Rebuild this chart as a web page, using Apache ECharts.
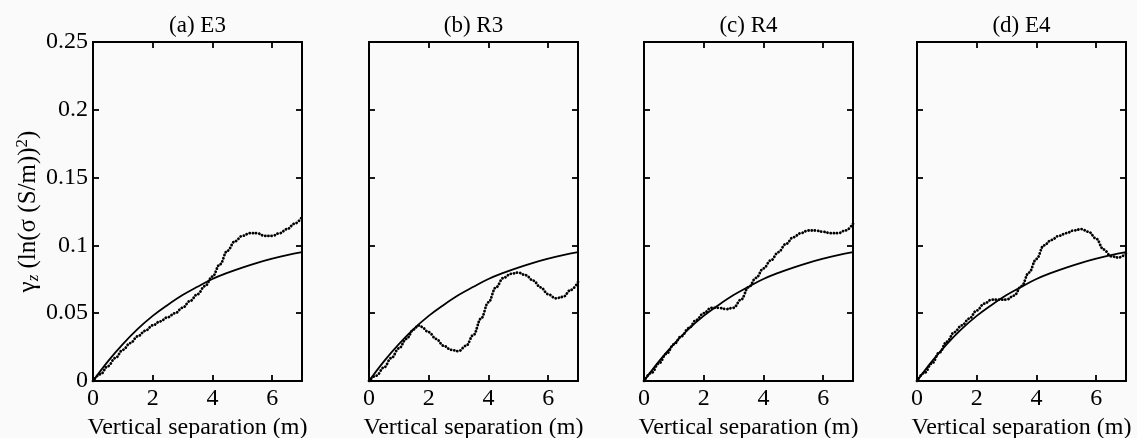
<!DOCTYPE html>
<html>
<head>
<meta charset="utf-8">
<script src="https://cdn.jsdelivr.net/npm/echarts@6/dist/echarts.min.js"></script>
<style>
html,body{margin:0;padding:0;background:#fafafa;}
#chart{width:1137px;height:438px;}
</style>
</head>
<body>
<div id="chart"></div>
<script>
// ---- data ----
const panelTitles = ['(a) E3', '(b) R3', '(c) R4', '(d) E4'];
const xTitle = 'Vertical separation (m)';
const yTicks = [0.05, 0.1, 0.15, 0.2];
const xTicks = [2, 4, 6];

// fitted model curve (same in every panel)
const modelX = [0, 0.5, 1, 1.5, 2, 2.5, 3, 3.5, 4, 4.5, 5, 5.5, 6, 6.5, 7];
const modelY = [0, 0.0145, 0.0272, 0.0384, 0.048, 0.0561, 0.0634, 0.0695, 0.0752, 0.0797, 0.0836, 0.0871, 0.0902, 0.0929, 0.095];

// experimental variograms (dotted)
const e3X = [0,0.25,0.5,0.75,1,1.25,1.5,1.75,2,2.25,2.5,2.75,3,3.25,3.5,3.75,4,4.25,4.5,4.75,5,5.25,5.5,5.75,6,6.25,6.5,6.75,7];
const e3Y = [0,0.005,0.011,0.017,0.023,0.028,0.033,0.037,0.041,0.044,0.047,0.050,0.054,0.059,0.064,0.070,0.077,0.086,0.096,0.103,0.107,0.109,0.109,0.107,0.107,0.109,0.112,0.116,0.121];

const r3X = [0,0.25,0.5,0.75,1,1.25,1.5,1.65,1.75,2,2.25,2.5,2.75,3,3.25,3.5,3.75,4,4.25,4.5,4.75,5,5.25,5.5,5.75,6,6.25,6.5,6.75,7];
const r3Y = [0,0.004,0.010,0.017,0.024,0.031,0.038,0.041,0.040,0.036,0.031,0.026,0.023,0.022,0.026,0.034,0.046,0.058,0.069,0.076,0.079,0.080,0.078,0.074,0.069,0.064,0.061,0.062,0.067,0.073];

const r4X = [0,0.25,0.5,0.75,1,1.25,1.5,1.75,2,2.25,2.5,2.75,3,3.25,3.5,3.75,4,4.25,4.5,4.75,5,5.25,5.5,5.75,6,6.25,6.5,6.75,7];
const r4Y = [0,0.006,0.013,0.020,0.027,0.033,0.039,0.045,0.050,0.054,0.054,0.053,0.054,0.060,0.069,0.076,0.083,0.089,0.095,0.101,0.106,0.109,0.111,0.111,0.110,0.109,0.109,0.111,0.116];

const e4X = [0,0.25,0.5,0.75,1,1.25,1.5,1.75,2,2.25,2.5,2.75,3,3.25,3.5,3.75,4,4.25,4.5,4.75,5,5.25,5.5,5.75,6,6.25,6.5,6.75,7];
const e4Y = [0,0.006,0.013,0.021,0.029,0.036,0.041,0.046,0.052,0.057,0.060,0.060,0.060,0.063,0.070,0.080,0.090,0.100,0.104,0.107,0.109,0.111,0.112,0.110,0.105,0.097,0.092,0.091,0.094];

const expX = [e3X, r3X, r4X, e4X];
const expY = [e3Y, r3Y, r4Y, e4Y];

// ---- chart ----
const FONT = "'Liberation Serif','Times New Roman',serif";
const gridLefts = [93, 369, 644, 917];
const gridW = 209;
const zip = (xs, ys) => xs.map((x, i) => [x, ys[i]]);

const grids = [], xAxes = [], yAxes = [], series = [];
const tickLine = {color: '#000', width: 1.8};
const xTick = {show: true, inside: true, length: 6, lineStyle: tickLine, customValues: xTicks};
const yTick = {show: true, inside: true, length: 6, lineStyle: tickLine, customValues: yTicks};
const noLine = {show: false, onZero: false};

gridLefts.forEach((left, i) => {
  grids.push({left: left, width: gridW, top: 42, height: 339, show: true,
    outerBoundsMode: 'none', containLabel: false,
    borderColor: '#000', borderWidth: 2, backgroundColor: 'transparent'});
  // bottom x
  xAxes.push({type: 'value', gridIndex: i, position: 'bottom', min: 0, max: 7, interval: 2,
    axisLine: noLine, axisTick: xTick, splitLine: {show: false},
    axisLabel: {color: '#000', fontFamily: FONT, fontSize: 24, margin: 6, showMaxLabel: false},
    name: xTitle, nameLocation: 'middle', nameGap: 30,
    nameTextStyle: {color: '#000', fontFamily: FONT, fontSize: 24}});
  // top x (ticks + panel title)
  xAxes.push({type: 'value', gridIndex: i, position: 'top', min: 0, max: 7, interval: 2,
    axisLine: noLine, axisTick: xTick, splitLine: {show: false},
    axisLabel: {show: false},
    name: panelTitles[i], nameLocation: 'middle', nameGap: 5,
    nameTextStyle: {color: '#000', fontFamily: FONT, fontSize: 23}});
  // left y
  const yl = {type: 'value', gridIndex: i, position: 'left', min: 0, max: 0.25, interval: 0.05,
    axisLine: noLine, axisTick: yTick, splitLine: {show: false},
    axisLabel: {show: i === 0, color: '#000', fontFamily: FONT, fontSize: 24, margin: 5,
      formatter: v => String(+v.toFixed(2))}};
  if (i === 0) {
    yl.name = '{g|γ}{s|z}{g| (ln(σ (S/m))}{p|2}{g|)}';
    yl.nameLocation = 'middle';
    yl.nameGap = 41;
    yl.nameTextStyle = {color: '#000', fontFamily: FONT, fontSize: 25,
      rich: {
        g: {fontFamily: FONT, fontSize: 25, color: '#000', lineHeight: 28},
        s: {fontFamily: FONT, fontSize: 17, fontStyle: 'italic', color: '#000', lineHeight: 16, verticalAlign: 'bottom'},
        p: {fontFamily: FONT, fontSize: 17, color: '#000', lineHeight: 16, verticalAlign: 'top'}
      }};
  }
  yAxes.push(yl);
  // right y
  yAxes.push({type: 'value', gridIndex: i, position: 'right', min: 0, max: 0.25, interval: 0.05,
    axisLine: noLine, axisTick: yTick, splitLine: {show: false},
    axisLabel: {show: false}});

  series.push({type: 'line', xAxisIndex: 2 * i, yAxisIndex: 2 * i, data: zip(modelX, modelY),
    smooth: 0.4, showSymbol: false, silent: true,
    lineStyle: {color: '#000', width: 1.8}, z: 3});
  series.push({type: 'line', xAxisIndex: 2 * i, yAxisIndex: 2 * i, data: zip(expX[i], expY[i]),
    smooth: 0.4, smoothMonotone: 'x', showSymbol: false, silent: true,
    lineStyle: {color: '#000', width: 2.8, type: [0.1, 3.1], cap: 'round'}, z: 2});
});

const chart = echarts.init(document.getElementById('chart'), null, {renderer: 'canvas'});
chart.setOption({
  backgroundColor: '#fafafa',
  animation: false,
  grid: grids,
  xAxis: xAxes,
  yAxis: yAxes,
  series: series
});
</script>
</body>
</html>
